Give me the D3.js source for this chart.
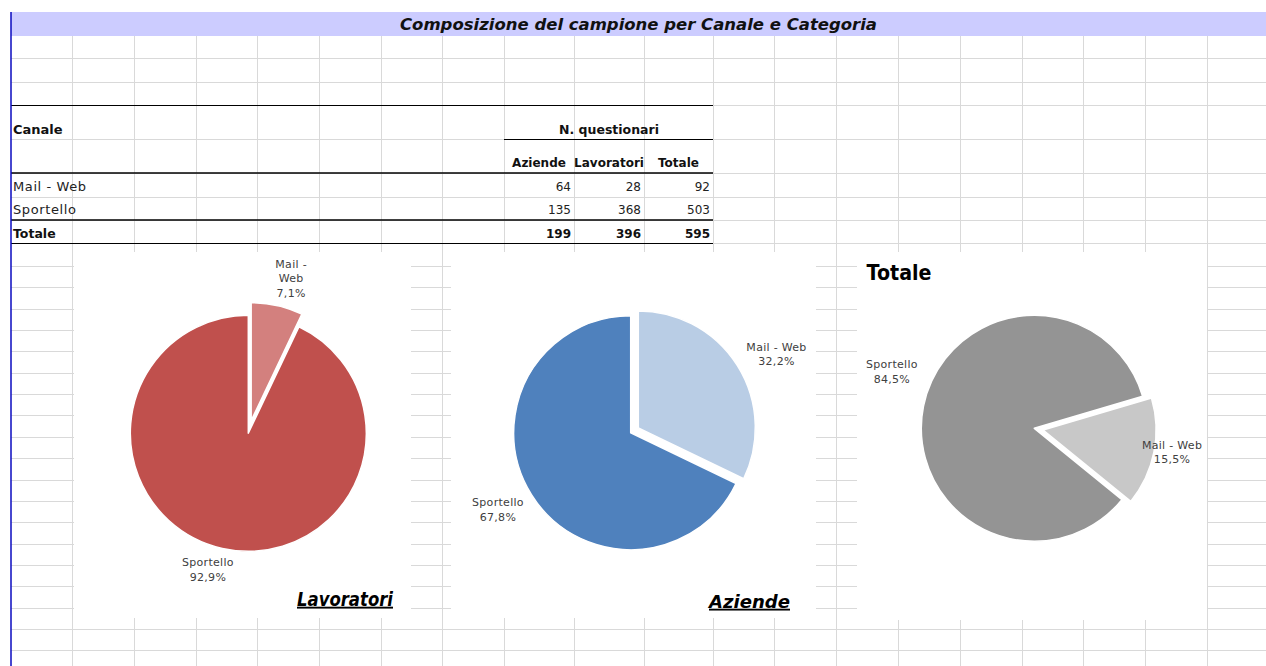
<!DOCTYPE html>
<html>
<head>
<meta charset="utf-8">
<script src="https://cdn.jsdelivr.net/npm/d3@7"></script>
<style>
  html, body { margin: 0; padding: 0; background: #fff; }
  svg { display: block; }
  text { font-family: "Century Gothic", "DejaVu Sans", sans-serif; }
</style>
</head>
<body>
<svg id="chart" width="1266" height="666"></svg>
<script>
// ---------------- DATA ----------------
const pageTitle = "Composizione del campione per Canale e Categoria";
const rowHeaderTitle = "Canale";
const groupHeader = "N. questionari";
const colHeaders = ["Aziende", "Lavoratori", "Totale"];
const categories = ["Mail - Web", "Sportello"];
const aziende = [64, 135];
const lavoratori = [28, 368];
const totali = [92, 503];
const totalRowLabel = "Totale";
const chartTitles = ["Lavoratori", "Aziende", "Totale"];

// ---------------- LAYOUT ----------------
const W = 1266, H = 666;
const svg = d3.select("#chart");
svg.append("rect").attr("width", W).attr("height", H).attr("fill", "#fff");

const colX = [72,134,196,257,319,381,442,504,574,644,713,774,836,898,960,1022,1083,1145,1207];
const rowY = [58.3,81.7,105,139.3,172.7,196.7,220,243.3].concat(d3.range(19).map(i => 266 + i * 21.35));

const grid = svg.append("g").attr("stroke", "#D9D9D9").attr("stroke-width", 1);
colX.forEach(x => grid.append("line").attr("x1", x + 0.5).attr("x2", x + 0.5).attr("y1", 36).attr("y2", H));
rowY.forEach(y => grid.append("line").attr("x1", 11).attr("x2", W).attr("y1", Math.round(y) + 0.5).attr("y2", Math.round(y) + 0.5));

// title band
svg.append("rect").attr("x", 11).attr("y", 12).attr("width", W - 11).attr("height", 24).attr("fill", "#CCCCFF");
svg.append("text").attr("x", 638.5).attr("y", 29.5).attr("text-anchor", "middle")
  .attr("font-size", 16).attr("font-weight", "bold").attr("font-style", "italic")
  .attr("textLength", 477).attr("lengthAdjust", "spacingAndGlyphs")
  .attr("fill", "#111").text(pageTitle);

// ---------------- TABLE ----------------
const tableLeft = 11, tableRight = 713;
const colBand = d3.scaleOrdinal().domain(colHeaders).range([[504, 574], [574, 644], [644, 713]]);
const tbl = svg.append("g").attr("fill", "#111");

tbl.append("text").attr("x", 13).attr("y", 134).attr("font-size", 13).attr("font-weight", "bold").text(rowHeaderTitle);
tbl.append("text").attr("x", 609).attr("y", 134).attr("text-anchor", "middle").attr("font-size", 12.5).attr("font-weight", "bold").text(groupHeader);
colHeaders.forEach(h => {
  const [a, b] = colBand(h);
  tbl.append("text").attr("x", (a + b) / 2).attr("y", 167).attr("text-anchor", "middle")
    .attr("font-size", 12).attr("font-weight", "bold").text(h);
});

const rowBaselines = [190.5, 213.5];
const columnsData = [aziende, lavoratori, totali];
categories.forEach((c, i) => {
  tbl.append("text").attr("x", 13).attr("y", rowBaselines[i]).attr("font-size", 13)
    .attr("letter-spacing", 0.6).attr("fill", "#222").text(c);
  columnsData.forEach((arr, j) => {
    const [a, b] = colBand(colHeaders[j]);
    tbl.append("text").attr("x", b - 3).attr("y", rowBaselines[i]).attr("text-anchor", "end")
      .attr("font-size", 12).attr("fill", "#222").text(arr[i]);
  });
});
tbl.append("text").attr("x", 13).attr("y", 237.5).attr("font-size", 12.5).attr("font-weight", "bold").text(totalRowLabel);
columnsData.forEach((arr, j) => {
  const [a, b] = colBand(colHeaders[j]);
  tbl.append("text").attr("x", b - 3).attr("y", 237.5).attr("text-anchor", "end")
    .attr("font-size", 12).attr("font-weight", "bold").text(d3.sum(arr));
});

const bl = svg.append("g").attr("stroke", "#000");
bl.append("line").attr("x1", tableLeft).attr("x2", tableRight).attr("y1", 105.5).attr("y2", 105.5).attr("stroke-width", 1);
bl.append("line").attr("x1", 504).attr("x2", tableRight).attr("y1", 139.5).attr("y2", 139.5).attr("stroke-width", 1);
bl.append("line").attr("x1", tableLeft).attr("x2", tableRight).attr("y1", 173).attr("y2", 173).attr("stroke-width", 1.6);
bl.append("line").attr("x1", tableLeft).attr("x2", tableRight).attr("y1", 220).attr("y2", 220).attr("stroke-width", 1.6);
bl.append("line").attr("x1", tableLeft).attr("x2", tableRight).attr("y1", 243.5).attr("y2", 243.5).attr("stroke-width", 1);

// ---------------- PIES ----------------
const itLocale = d3.formatLocale({ decimal: ",", thousands: ".", grouping: [3], currency: ["", "€"] });
const pct = itLocale.format(".1%");
const deg = Math.PI / 180;

const charts = [
  { values: lavoratori, title: chartTitles[0], box: [74, 252, 337, 366], cx: 248.3, cy: 433.3, r: 118,
    start: 0, explode: [13, 0], colors: ["#D3807E", "#C0504D"],
    labels: [{ rad: 161, dAng: 2.7, wrap: true }, { rad: 142, dAng: 3.8 }],
    titleStyle: { x: 393, y: 605.7, size: 19, italic: true, underline: true, anchor: "end", len: 96 } },
  { values: aziende, title: chartTitles[1], box: [451, 252, 365, 366], cx: 630.7, cy: 432.7, r: 117,
    start: 0, explode: [9, 0], colors: ["#B9CDE5", "#4F81BD"],
    labels: [{ rad: 165.6, dAng: 3.8 }, { rad: 153.3, dAng: 2.1 }],
    titleStyle: { x: 790, y: 607.7, size: 18.5, italic: true, underline: true, anchor: "end", len: 81 } },
  { values: totali, title: chartTitles[2], box: [857, 252, 350, 368], cx: 1034.3, cy: 428.3, r: 113,
    start: 73.5, explode: [9, 0], colors: ["#C8C8C8", "#949494"],
    labels: [{ rad: 139.8, dAng: -1.6 }, { rad: 153.3, dAng: 10.4 }],
    titleStyle: { x: 866.5, y: 280, size: 21, italic: false, underline: false, anchor: "start", len: 65 } }
];

charts.forEach(ch => {
  const [bx, by, bw, bh] = ch.box;
  svg.append("rect").attr("x", bx).attr("y", by).attr("width", bw).attr("height", bh).attr("fill", "#fff");
  const g = svg.append("g").attr("transform", `translate(${ch.cx},${ch.cy})`);
  const total = d3.sum(ch.values);
  const pie = d3.pie().sort(null).value(d => d)
    .startAngle(ch.start * deg).endAngle(ch.start * deg + 2 * Math.PI);
  const arcs = pie(ch.values);
  const arc = d3.arc().innerRadius(0).outerRadius(ch.r);

  g.selectAll("path.slice").data(arcs).enter().append("path")
    .attr("class", "slice")
    .attr("d", arc)
    .attr("fill", (d, i) => ch.colors[i])
    .attr("stroke", "#fff").attr("stroke-width", 1.5).attr("stroke-linejoin", "round")
    .attr("transform", (d, i) => {
      const m = (d.startAngle + d.endAngle) / 2, e = ch.explode[i];
      return `translate(${Math.sin(m) * e},${-Math.cos(m) * e})`;
    });

  arcs.forEach((d, i) => {
    const L = ch.labels[i];
    const m = (d.startAngle + d.endAngle) / 2 + L.dAng * deg;
    const lx = Math.sin(m) * L.rad, ly = -Math.cos(m) * L.rad;
    const name = categories[i];
    let lines = L.wrap ? ["Mail -", "Web"] : [name];
    lines = lines.concat([pct(d.value / total)]);
    const lh = 14.5;
    const t = g.append("text").attr("text-anchor", "middle").attr("font-size", 11)
      .attr("letter-spacing", 0.3).attr("fill", "#404040");
    lines.forEach((s, k) => {
      t.append("tspan").attr("x", lx).attr("y", ly + 4 - (lines.length - 1) * lh / 2 + k * lh).text(s);
    });
  });

  const ts = ch.titleStyle;
  svg.append("text").attr("x", ts.x).attr("y", ts.y).attr("text-anchor", ts.anchor)
    .attr("font-size", ts.size).attr("font-weight", "bold")
    .attr("font-style", ts.italic ? "italic" : "normal")
    .attr("text-decoration", ts.underline ? "underline" : "none")
    .attr("textLength", ts.len).attr("lengthAdjust", "spacingAndGlyphs")
    .attr("fill", "#000").text(ch.title);
});

// left blue border line
svg.append("line").attr("x1", 11).attr("x2", 11).attr("y1", 12).attr("y2", H)
  .attr("stroke", "#0A0ABF").attr("stroke-width", 1.5);
</script>
</body>
</html>
